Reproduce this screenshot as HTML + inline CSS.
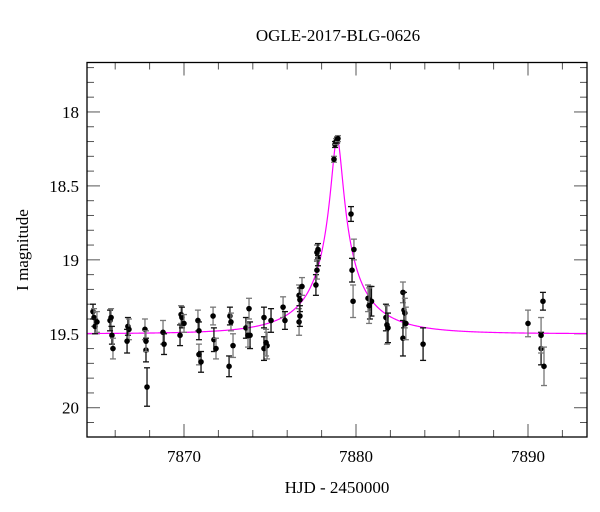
<!DOCTYPE html>
<html><head><meta charset="utf-8"><style>
body{margin:0;background:#fff;}
svg{display:block;font-family:"Liberation Serif",serif;}
</style></head><body>
<svg id="chart" width="600" height="512" viewBox="0 0 600 512">
<text x="338" y="41" font-size="17" text-anchor="middle">OGLE-2017-BLG-0626</text>
<text x="337" y="493" font-size="17" text-anchor="middle">HJD - 2450000</text>
<text transform="translate(28,250) rotate(-90)" font-size="17" text-anchor="middle">I magnitude</text>
<g id="ticks"></g>
<g id="model"></g>
<g id="points"></g>
<rect x="87" y="62.5" width="500" height="374.5" fill="none" stroke="#000" stroke-width="1.3"/>
</svg>
<script>
const hjd=[7864.71,7864.77,7864.83,7864.94,7865.70,7865.76,7865.81,7865.87,7866.74,7866.80,7866.69,7867.73,7867.79,7867.79,7867.85,7868.78,7868.84,7869.83,7869.88,7870.0,7869.77,7870.81,7870.87,7870.87,7870.99,7871.69,7871.74,7871.86,7872.67,7872.73,7872.62,7872.85,7873.60,7873.72,7873.84,7873.78,7874.65,7874.83,7874.65,7874.77,7875.06,7875.76,7875.87,7876.69,7876.74,7876.69,7876.74,7876.86,7877.67,7877.73,7877.79,7877.73,7877.79,7878.72,7878.78,7878.84,7878.90,7878.95,7879.71,7879.88,7879.77,7879.83,7880.81,7880.70,7880.90,7880.76,7881.74,7881.80,7881.86,7882.73,7882.79,7882.84,7882.73,7882.90,7883.90,7890.0,7890.76,7890.76,7890.87,7890.93];
const mag=[19.35,19.39,19.45,19.42,19.41,19.39,19.51,19.60,19.45,19.47,19.55,19.47,19.61,19.55,19.86,19.49,19.57,19.37,19.39,19.43,19.51,19.41,19.48,19.64,19.69,19.38,19.54,19.60,19.38,19.42,19.72,19.58,19.46,19.51,19.51,19.33,19.39,19.58,19.60,19.56,19.41,19.32,19.41,19.24,19.27,19.42,19.38,19.18,19.17,19.07,18.99,18.95,18.93,18.32,18.22,18.20,18.19,18.18,18.69,18.93,19.07,19.28,19.29,19.26,19.28,19.31,19.39,19.44,19.46,19.22,19.34,19.36,19.53,19.43,19.57,19.43,19.60,19.51,19.28,19.72];
const err=[0.05,0.06,0.05,0.07,0.07,0.06,0.06,0.07,0.06,0.07,0.08,0.07,0.08,0.07,0.13,0.08,0.07,0.06,0.07,0.06,0.07,0.07,0.06,0.07,0.07,0.06,0.08,0.07,0.06,0.06,0.07,0.08,0.07,0.08,0.09,0.07,0.07,0.09,0.08,0.09,0.08,0.07,0.06,0.07,0.08,0.09,0.07,0.06,0.07,0.06,0.05,0.05,0.04,0.02,0.02,0.02,0.02,0.02,0.05,0.07,0.08,0.11,0.11,0.09,0.10,0.12,0.09,0.13,0.10,0.07,0.12,0.10,0.12,0.11,0.11,0.09,0.11,0.12,0.06,0.13];
const xTicks=[7870,7880,7890];
const yTicks=[18,18.5,19,19.5,20];
const model={t0:7878.9,u0:0.078,tE:4.0,fs:0.2,base:19.50};

const X0=87,X1=587,Y0=62.5,Y1=437;
const xmin=7870-(184-87)/17.2, xmax=7870+(587-184)/17.2;
const ymin=18-(112-62.5)/148, ymax=20+(437-407.7)/148;
const sx=v=>X0+(v-xmin)/(xmax-xmin)*(X1-X0);
const sy=v=>Y0+(v-ymin)/(ymax-ymin)*(Y1-Y0);
const NS="http://www.w3.org/2000/svg";
function mk(tag,attrs,parent){const e=document.createElementNS(NS,tag);for(const k in attrs)e.setAttribute(k,attrs[k]);parent.appendChild(e);return e;}
const tg=document.getElementById('ticks');
for(let t=7866;t<=7892;t+=2){
  const major=xTicks.includes(t);const L=major?13:7;const x=sx(t);
  const a=mk('line',{x1:x,x2:x,y1:Y1,y2:Y1-L,stroke:'#555','stroke-width':1},tg);
  
  
  const b=mk('line',{x1:x,x2:x,y1:Y0,y2:Y0+L,stroke:'#555','stroke-width':1},tg);
  
  
}
xTicks.forEach(t=>{const e=mk('text',{x:sx(t),y:Y1+25,'font-size':17,'text-anchor':'middle'},tg);e.textContent=t;
  
  });
for(let i=0;i<=25;i++){const m=17.7+i*0.1;if(m>ymax)break;
  const major=yTicks.some(v=>Math.abs(v-m)<1e-6);const L=major?13:7;const y=sy(m);
  const a=mk('line',{x1:X0,x2:X0+L,y1:y,y2:y,stroke:'#555','stroke-width':1},tg);
  
  
  const b=mk('line',{x1:X1,x2:X1-L,y1:y,y2:y,stroke:'#555','stroke-width':1},tg);
  
  
}
yTicks.forEach(t=>{const e=mk('text',{x:79,y:sy(t)+6,'font-size':17,'text-anchor':'end'},tg);e.textContent=t;
  
  });
// model
function magAt(t){const tau=(t-model.t0)/model.tE;const u=Math.sqrt(tau*tau+model.u0*model.u0);
  const A=(u*u+2)/(u*Math.sqrt(u*u+4));return model.base-2.5*Math.log10(model.fs*(A-1)+1);}
let d='';for(let i=0;i<=1000;i++){const t=xmin+(xmax-xmin)*i/1000;d+=(i?'L':'M')+sx(t).toFixed(2)+','+sy(magAt(t)).toFixed(2);}
const p=mk('path',{d:d,fill:'none',stroke:'#ff00ff','stroke-width':1.2},document.getElementById('model'));


// points
const pg=document.getElementById('points');
for(let i=0;i<hjd.length;i++){
  const x=sx(hjd[i]),y=sy(mag[i]),y1=sy(mag[i]-err[i]),y2=sy(mag[i]+err[i]);
  const col=i%2?'#777':'#111';
  const g=mk('g',{},pg);
  
  
  mk('line',{x1:x,x2:x,y1:y1,y2:y2,stroke:col,'stroke-width':1.3},g);
  mk('line',{x1:x-3,x2:x+3,y1:y1,y2:y1,stroke:col,'stroke-width':1.3},g);
  mk('line',{x1:x-3,x2:x+3,y1:y2,y2:y2,stroke:col,'stroke-width':1.3},g);
  mk('circle',{cx:x,cy:y,r:2.8,fill:'#000'},g);
}
</script>
</body></html>
